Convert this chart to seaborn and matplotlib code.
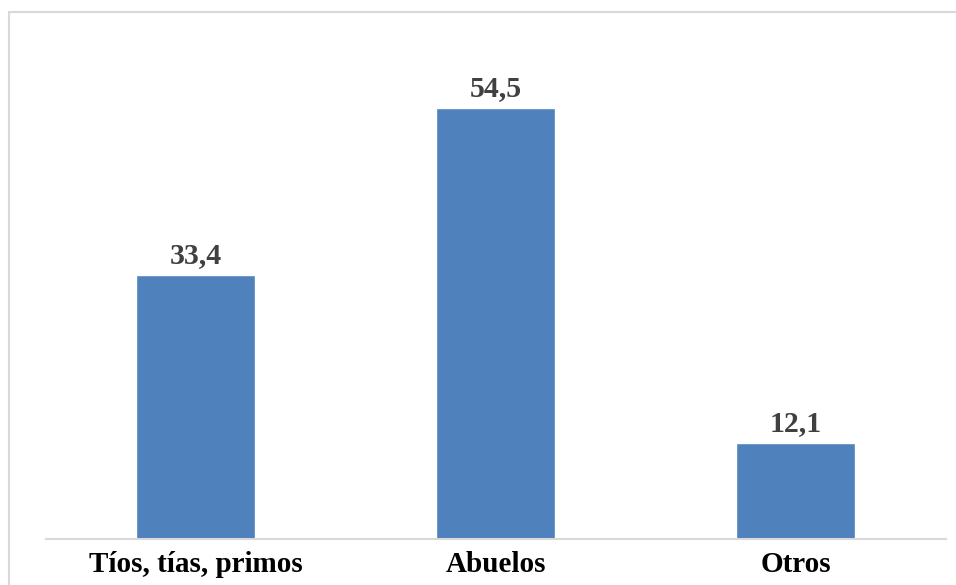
import matplotlib
matplotlib.use("Agg")
import matplotlib.pyplot as plt
import seaborn as sns
import pandas as pd
from matplotlib.patches import Rectangle

categories = ["Tíos, tías, primos", "Abuelos", "Otros"]
values = [33.4, 54.5, 12.1]
value_labels = ["33,4", "54,5", "12,1"]

sns.set_theme(style="white")
plt.rcParams['font.family'] = ['Liberation Serif', 'DejaVu Serif']

W, H = 956, 585
fig = plt.figure(figsize=(W / 100, H / 100), dpi=100)
fig.patch.set_facecolor("white")

# outer chart-area border (only top/left visible in reference)
fig.add_artist(Rectangle((8.5 / W, -0.1), 1.2, (H - 11.5) / H + 0.1,
                         transform=fig.transFigure, fill=False,
                         edgecolor="#D9D9D9", linewidth=1.5, zorder=0))

left, right = 45.5, 945.5
scale = 7.9
bottom, top = 538.5, 538.5 - 60 * scale
ax = fig.add_axes([left / W, (H - bottom) / H, (right - left) / W, (bottom - top) / H])
ax.set_facecolor("none")

df = pd.DataFrame({"cat": categories, "val": values})
sns.barplot(data=df, x="cat", y="val", color="#4F81BD", saturation=1,
            width=0.397, ax=ax)
ax.set_xlim(-0.5, 2.5)
ax.set_ylim(0, 60)

for i, (v, lab) in enumerate(zip(values, value_labels)):
    ax.annotate(lab, (i, v), xytext=(0, 4), textcoords="offset points",
                ha="center", va="bottom", fontsize=21.5, fontweight="bold",
                color="#404040")

for s in ["top", "right", "left"]:
    ax.spines[s].set_visible(False)
ax.spines["bottom"].set_color("#D9D9D9")
ax.spines["bottom"].set_linewidth(1.5)
ax.set_yticks([])
ax.set_xlabel("")
ax.set_ylabel("")
ax.tick_params(axis="x", length=0, pad=9)
for t in ax.get_xticklabels():
    t.set_fontsize(21)
    t.set_fontweight("bold")
    t.set_color("black")

fig.savefig("out.png", dpi=100)
